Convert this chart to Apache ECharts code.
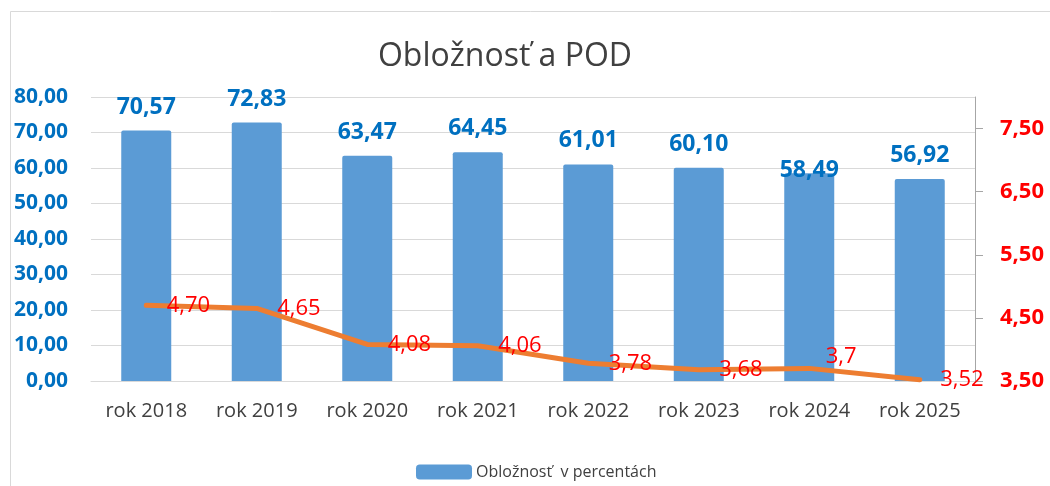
<!DOCTYPE html>
<html>
<head>
<meta charset="utf-8">
<script src="https://cdn.jsdelivr.net/npm/echarts@6/dist/echarts.min.js"></script>
<style>
html,body{margin:0;padding:0;background:#fff;}
#main{width:1050px;height:486px;}
</style>
</head>
<body>
<div id="main"></div>
<script>
// ---- data ----
var categories = ['rok 2018','rok 2019','rok 2020','rok 2021','rok 2022','rok 2023','rok 2024','rok 2025'];
var occupancy = [70.57, 72.83, 63.47, 64.45, 61.01, 60.10, 58.49, 56.92];
var pod = [4.70, 4.65, 4.08, 4.06, 3.78, 3.68, 3.70, 3.52];
var podLabels = ['4,70','4,65','4,08','4,06','3,78','3,68','3,7','3,52'];
var rightTicks = [3.5, 4.5, 5.5, 6.5, 7.5];
var titleText = 'Obložnosť a POD';
var barName = 'Obložnosť  v percentách';
var lineName = 'POD';

var FONT = '"Open Sans", "Noto Sans", sans-serif';
function comma2(v){ return Number(v).toFixed(2).replace('.', ','); }

var barData = occupancy.map(function(v, i){
  var d = { value: v };
  if (i === 6) d.label = { offset: [0, 21] };
  return d;
});
var lineData = pod.map(function(v, i){
  var d = { value: v };
  if (i === 6) d.label = { offset: [-4, -12] };
  return d;
});

var chart = echarts.init(document.getElementById('main'), null, {renderer:'canvas'});
chart.setOption({
  animation: false,
  backgroundColor: '#ffffff',
  title: {
    text: titleText,
    left: 500, top: 36, textAlign: 'center',
    textStyle: { fontFamily: FONT, fontSize: 32, fontWeight: 'normal', color: '#404040' }
  },
  graphic: [{
    type: 'rect', silent: true, z: -1,
    shape: { x: 10.5, y: 11.5, width: 1200, height: 700 },
    style: { fill: 'none', stroke: '#d9d9d9', lineWidth: 1 }
  }],
  legend: {
    data: [barName],
    left: 411, top: 459,
    itemWidth: 56, itemHeight: 15, itemGap: 10,
    icon: 'roundRect',
    textStyle: { fontFamily: FONT, fontSize: 16, color: '#404040', padding: [0,0,0,-1] }
  },
  grid: { left: 91, right: 75, top: 97, bottom: 105, containLabel: false },
  xAxis: {
    type: 'category',
    data: categories,
    axisLine: { show: true, lineStyle: { color: '#d9d9d9', width: 1 } },
    axisTick: { show: false },
    axisLabel: { fontFamily: FONT, fontSize: 20, color: '#404040', margin: 20 }
  },
  yAxis: [{
    type: 'value', min: 0, max: 80, interval: 10,
    axisLine: { show: false }, axisTick: { show: false },
    splitLine: { lineStyle: { color: '#d9d9d9', width: 1 } },
    axisLabel: { fontFamily: FONT, fontSize: 21, fontWeight: 'bold', color: '#0070C0', margin: 23,
      formatter: function(v){ return comma2(v); } }
  }, {
    type: 'value', min: 3.5, max: 8,
    position: 'right',
    splitLine: { show: false },
    axisLine: { show: true, lineStyle: { color: '#a6a6a6', width: 1 } },
    axisTick: { show: true, inside: false, length: 8, customValues: rightTicks, lineStyle: { color: '#a6a6a6' } },
    axisLabel: { fontFamily: FONT, fontSize: 22, fontWeight: 'bold', color: '#FF0000', margin: 25,
      customValues: rightTicks,
      formatter: function(v){ return comma2(v); } }
  }],
  series: [{
    name: barName,
    type: 'bar',
    data: barData,
    barWidth: 50,
    itemStyle: { color: '#5B9BD5', borderRadius: [2,2,0,0] },
    label: { show: true, position: 'top', distance: 12,
      fontFamily: FONT, fontSize: 23, fontWeight: 'bold', color: '#0070C0',
      formatter: function(p){ return comma2(p.value); } },
    z: 2
  }, {
    name: lineName,
    type: 'line',
    yAxisIndex: 1,
    data: lineData,
    symbol: 'circle', symbolSize: 1, showSymbol: true,
    itemStyle: { color: '#ED7D31' },
    lineStyle: { color: '#ED7D31', width: 5, cap: 'round', join: 'round' },
    label: { show: true, position: 'right', distance: 20,
      fontFamily: FONT, fontSize: 22, color: '#FF0000',
      formatter: function(p){ return podLabels[p.dataIndex]; } },
    z: 3
  }]
});
</script>
</body>
</html>
